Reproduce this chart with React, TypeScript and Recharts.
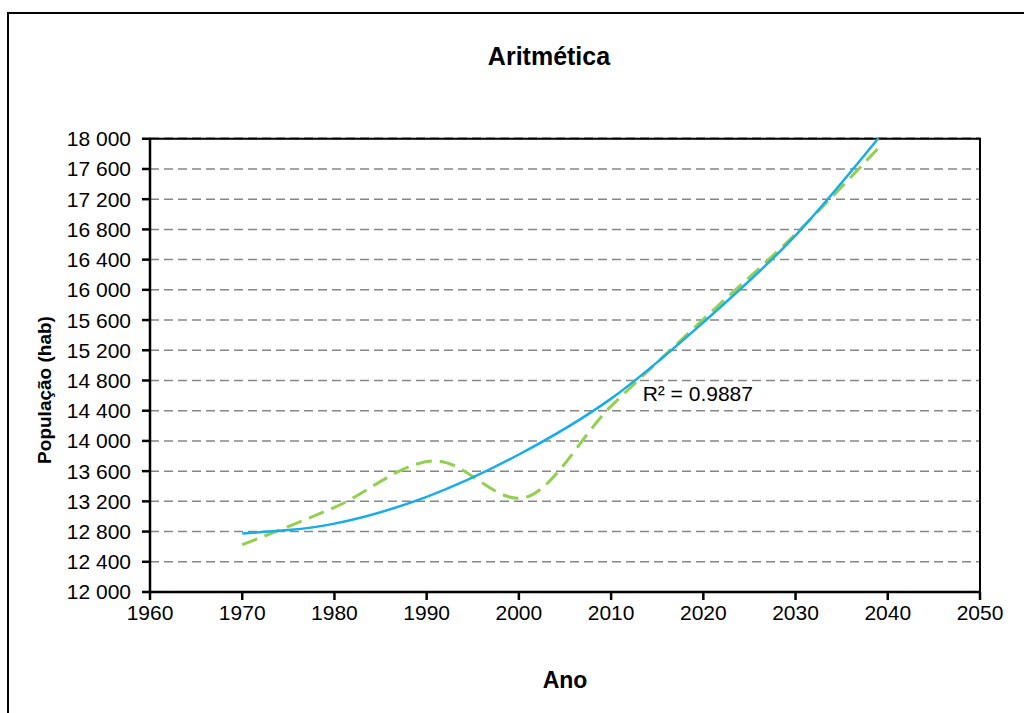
import { LineChart, Line, XAxis, YAxis, CartesianGrid, ReferenceArea, ReferenceDot, Label } from "recharts";

// observed population (census + projection)
const censusYears = [1970, 1980, 1991, 2000, 2010, 2020, 2030, 2039];
const censusPop = [12625, 13120, 13735, 13240, 14460, 15610, 16740, 17880];

// polynomial trend line
const trendYears = [1970, 1980, 1990, 2000, 2010, 2020, 2030, 2039];
const trendPop = [12776, 12905, 13260, 13820, 14560, 15570, 16720, 18010];

const yearTicks = [1960, 1970, 1980, 1990, 2000, 2010, 2020, 2030, 2040, 2050];
const popTicks = [12000, 12400, 12800, 13200, 13600, 14000, 14400, 14800, 15200, 15600, 16000, 16400, 16800, 17200, 17600, 18000];

const r2Label = "R² = 0.9887";

const censusData = censusYears.map((year, i) => ({ year, pop: censusPop[i] }));
const trendData = trendYears.map((year, i) => ({ year, pop: trendPop[i] }));

const font = "'Liberation Sans', Arial, Helvetica, sans-serif";

const formatPop = (v: number) => {
  const s = String(v);
  return s.slice(0, s.length - 3) + " " + s.slice(-3);
};

const App = () => {
  return (
    <div style={{ position: "absolute", left: 0, top: 0, width: 1024, height: 713, overflow: "hidden", background: "#fff", fontFamily: font }}>
      <div
        style={{
          position: "absolute",
          left: 7,
          top: 12,
          width: 1100,
          height: 800,
          border: "2px solid #000",
        }}
      />
      <div
        style={{
          position: "absolute",
          left: 449,
          top: 42,
          width: 200,
          textAlign: "center",
          fontSize: 25,
          fontWeight: "bold",
          color: "#000",
        }}
      >
        Aritmética
      </div>
      <div style={{ position: "absolute", left: 0, top: 0 }}>
        <LineChart width={1024} height={713} margin={{ top: 138, right: 44, bottom: 0, left: 0 }}>
          <CartesianGrid vertical={false} stroke="#868686" strokeWidth={1.5} strokeDasharray="9 5" />
          <XAxis
            dataKey="year"
            type="number"
            domain={[1960, 2050]}
            ticks={yearTicks}
            height={121}
            tickSize={8}
            tickMargin={5}
            stroke="#000"
            strokeWidth={2.5}
            tick={{ fill: "#000", fontSize: 21, fontFamily: font }}
          >
            <Label value="Ano" position="center" dy={27} style={{ fontSize: 23, fontWeight: "bold", fill: "#000", fontFamily: font }} />
          </XAxis>
          <YAxis
            type="number"
            domain={[12000, 18000]}
            ticks={popTicks}
            width={150}
            tickSize={8}
            tickMargin={11}
            stroke="#000"
            strokeWidth={2.5}
            tickFormatter={formatPop}
            tick={{ fill: "#000", fontSize: 21, fontFamily: font }}
          >
            <Label
              value="População (hab)"
              angle={-90}
              position="center"
              dx={-31}
              dy={25}
              style={{ fontSize: 19, fontWeight: "bold", fill: "#000", fontFamily: font, textAnchor: "middle" }}
            />
          </YAxis>
          <ReferenceArea x1={1960} x2={2050} y1={12000} y2={18000} fill="none" stroke="#000" strokeWidth={2} fillOpacity={0} />
          <Line
            data={censusData}
            dataKey="pop"
            type="monotone"
            stroke="#92D050"
            strokeWidth={3}
            strokeDasharray="16 8"
            dot={false}
            isAnimationActive={false}
          />
          <Line
            data={trendData}
            dataKey="pop"
            type="monotone"
            stroke="#16ADE8"
            strokeWidth={2.5}
            dot={false}
            isAnimationActive={false}
          />
          <ReferenceDot x={2019.4} y={14630} r={0} fill="none" stroke="none">
            <Label value={r2Label} position="center" style={{ fontSize: 21, fill: "#000", fontFamily: font }} />
          </ReferenceDot>
        </LineChart>
      </div>
    </div>
  );
};

export default App;
